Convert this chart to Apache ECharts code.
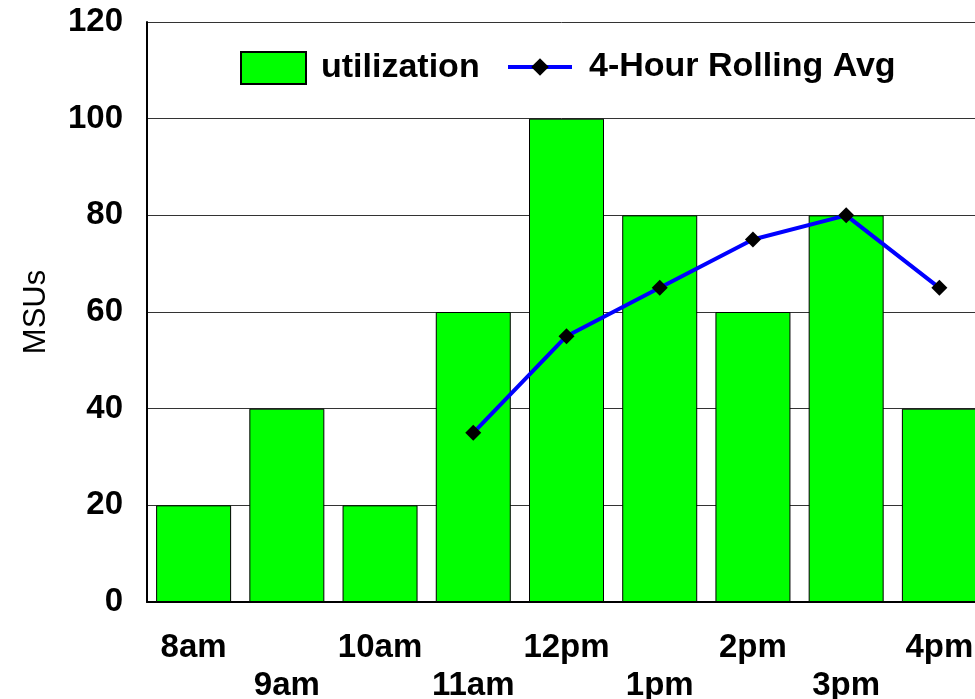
<!DOCTYPE html>
<html>
<head>
<meta charset="utf-8">
<script src="https://cdn.jsdelivr.net/npm/echarts@6/dist/echarts.min.js"></script>
<style>
  html, body { margin: 0; padding: 0; background: #fff; }
  #chart { width: 975px; height: 699px; }
</style>
</head>
<body>
<div id="chart"></div>
<script>
var hours = ['8am', '9am', '10am', '11am', '12pm', '1pm', '2pm', '3pm', '4pm'];
var utilization = [20, 40, 20, 60, 100, 80, 60, 80, 40];
var rollingAvg = [null, null, null, 35, 55, 65, 75, 80, 65];
var yTicks = [0, 20, 40, 60, 80, 100, 120];

var chart = echarts.init(document.getElementById('chart'));
var font = '"Liberation Sans", Arial, sans-serif';
var legendText = { fontFamily: font, fontSize: 34, fontWeight: 'bold', color: '#000' };

var option = {
    backgroundColor: '#fff',
    animation: false,
    legend: [
        {
            left: 235,
            top: 46,
            itemWidth: 65,
            itemHeight: 32,
            textStyle: Object.assign({ padding: [0, 0, 0, 10] }, legendText),
            data: [{ name: 'utilization', icon: 'rect' }]
        },
        {
            left: 501,
            top: 45,
            itemWidth: 64,
            itemHeight: 22,
            lineStyle: { width: 4 },
            textStyle: Object.assign({ padding: [0, 0, 0, 12] }, legendText),
            data: [{ name: '4-Hour Rolling Avg' }]
        }
    ],
    grid: {
        left: 147,
        top: 22,
        width: 839,
        height: 580,
        outerBoundsMode: 'none'
    },
    xAxis: {
        type: 'category',
        data: hours,
        axisTick: { show: false },
        axisLine: { lineStyle: { color: '#000', width: 2 } },
        axisLabel: {
            interval: 0,
            margin: 27,
            fontFamily: font,
            fontSize: 33,
            fontWeight: 'bold',
            color: '#000',
            lineHeight: 38,
            verticalAlign: 'top',
            formatter: function (v, i) {
                return i % 2 === 1 ? '\n' + v : v;
            }
        }
    },
    yAxis: {
        type: 'value',
        min: yTicks[0],
        max: yTicks[yTicks.length - 1],
        interval: 20,
        name: 'MSUs',
        nameLocation: 'middle',
        nameGap: 95,
        nameRotate: 90,
        nameTextStyle: { fontFamily: font, fontSize: 31, color: '#000' },
        axisLine: { show: true, lineStyle: { color: '#000', width: 2 } },
        axisTick: { show: false },
        axisLabel: {
            margin: 24,
            fontFamily: font,
            fontSize: 33,
            fontWeight: 'bold',
            color: '#000'
        },
        splitLine: { show: true, lineStyle: { color: '#333', width: 1 } }
    },
    series: [
        {
            name: 'utilization',
            type: 'bar',
            data: utilization,
            barWidth: 75,
            itemStyle: { color: '#00ff00', borderColor: '#000', borderWidth: 1 }
        },
        {
            name: '4-Hour Rolling Avg',
            type: 'line',
            data: rollingAvg,
            symbol: 'diamond',
            symbolSize: 16,
            lineStyle: { color: '#0000ff', width: 4 },
            itemStyle: { color: '#000' }
        }
    ]
};
chart.setOption(option);
</script>
</body>
</html>
